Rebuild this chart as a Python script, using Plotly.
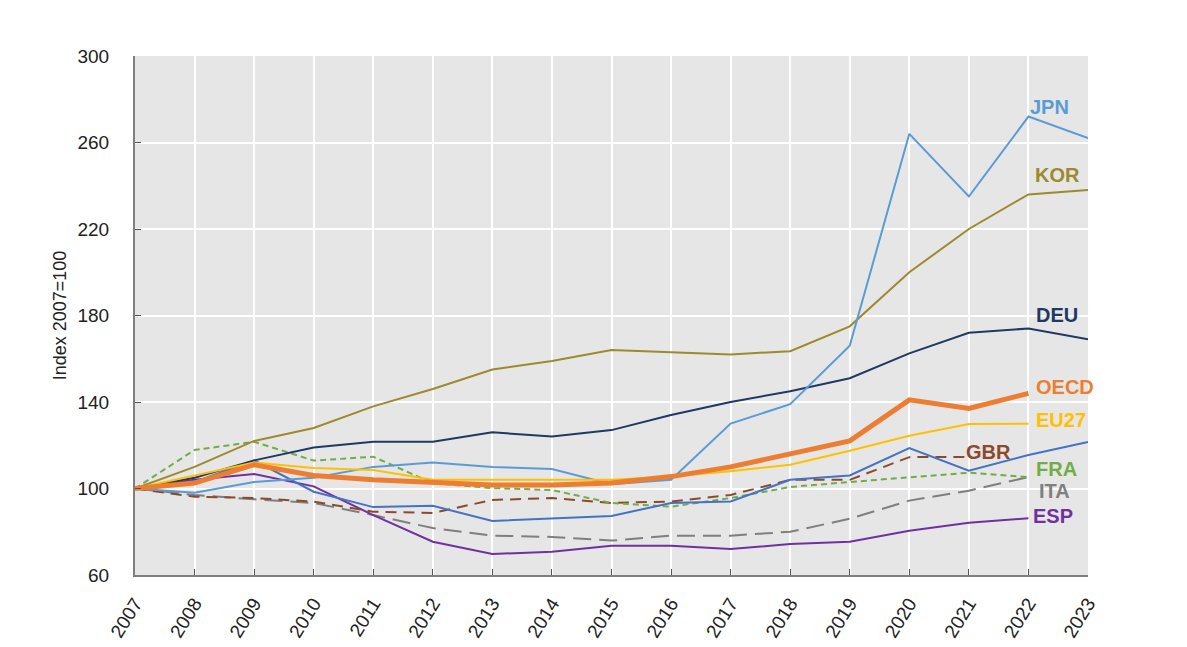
import plotly.graph_objects as go

years = list(range(2007, 2024))

jpn = [100, 98, 103, 105, 110, 112, 110, 109, 102, 104, 130, 139, 166, 264, 235, 272, 262]
kor = [100, 110, 122, 128, 138, 146, 155, 159, 164, 163, 162, 163.5, 175, 200, 220, 236, 238]
deu = [100, 105, 113, 119, 121.6, 121.6, 126, 124, 127, 134, 140, 145, 151, 162.5, 172, 174, 169]
oecd = [100, 102.5, 111, 106, 104, 103, 101.6, 101.6, 102.5, 105.5, 110, 116, 122, 141, 137, 144]
eu27 = [100, 106, 112, 109.5, 108.5, 104, 104, 104, 104, 105.5, 108, 111, 117.5, 124.4, 129.8, 130]
usa = [100, 103, 113, 98.5, 91.4, 92, 85, 86.3, 87.3, 93.3, 94, 104, 106, 118.7, 108.2, 115.5, 121.5]
gbr = [100, 96.2, 95.6, 93.9, 89.3, 88.7, 94.7, 95.6, 93.3, 94, 97, 104, 104, 114.5, 114.6]
fra = [100, 117.8, 121.6, 112.9, 114.7, 102.5, 100.2, 99.3, 93.3, 91.6, 95.6, 100.7, 103, 105.3, 107.3, 105.3]
ita = [100, 97, 95, 93.3, 87.7, 81.7, 78.2, 77.6, 75.9, 78.2, 78.2, 80, 86, 94.4, 99, 105.3]
esp = [100, 104, 106.7, 101, 87.7, 75.4, 69.7, 70.8, 73.5, 73.5, 72, 74.3, 75.4, 80.5, 84.2, 86.2]

series = [
    # name, values, colour, width, dash, label x, label y
    ("ITA", ita, "#7F7F7F", 2, "18px,8px", 2022.15, 98.8),
    ("ESP", esp, "#7030A0", 2, "solid", 2022.05, 87.3),
    ("GBR", gbr, "#8B4A2B", 2, "11px,7px", 2020.92, 117),
    ("FRA", fra, "#70AD47", 2, "6px,4px", 2022.1, 109),
    ("USA", usa, "#4472C4", 2, "solid", 2023.13, 121),
    ("DEU", deu, "#203864", 2, "solid", 2022.1, 180.2),
    ("KOR", kor, "#9C8A2C", 2, "solid", 2022.07, 245),
    ("JPN", jpn, "#5B9BD5", 2, "solid", 2022.0, 276.4),
    ("EU27", eu27, "#FFC000", 2, "solid", 2022.1, 131.7),
    ("OECD", oecd, "#ED7D31", 5, "solid", 2022.1, 146.9),
]

fig = go.Figure()
for name, vals, col, w, dash, lx, ly in series:
    fig.add_trace(go.Scatter(
        x=years[:len(vals)], y=vals, mode="lines", name=name,
        line=dict(color=col, width=w, dash=dash), showlegend=False,
    ))
    fig.add_annotation(
        x=lx, y=ly, text="<b>%s</b>" % name, showarrow=False,
        xanchor="left", yanchor="middle",
        font=dict(family="Arial, Liberation Sans", size=20, color=col),
    )

# page has an 8px body margin, so the figure is drawn slightly smaller
fig.update_layout(
    width=1179, height=639,
    margin=dict(l=127, r=99, t=48, b=72),
    paper_bgcolor="white", plot_bgcolor="#E6E6E7",
    font=dict(family="Arial, Liberation Sans", size=19, color="#222222"),
)
fig.update_xaxes(
    range=[2007, 2023], tickmode="array", tickvals=years,
    ticktext=[str(y) for y in years], tickangle=-58,
    showgrid=True, gridcolor="white", gridwidth=1.5,
    showline=True, linecolor="#7F7F7F", linewidth=2,
    ticks="inside", ticklen=6, tickcolor="#555555", zeroline=False,
    ticklabelstandoff=8, automargin=False,
)
fig.update_yaxes(
    range=[60, 300], tickvals=[60, 100, 140, 180, 220, 260, 300],
    showgrid=True, gridcolor="white", gridwidth=1.5,
    showline=True, linecolor="#7F7F7F", linewidth=2,
    ticks="inside", ticklen=6, tickcolor="#555555", zeroline=False,
    ticklabelstandoff=20, automargin=False,
    title=dict(text="Index 2007=100", font=dict(size=18, color="#222222"), standoff=6),
)

fig.write_html("out.html")
